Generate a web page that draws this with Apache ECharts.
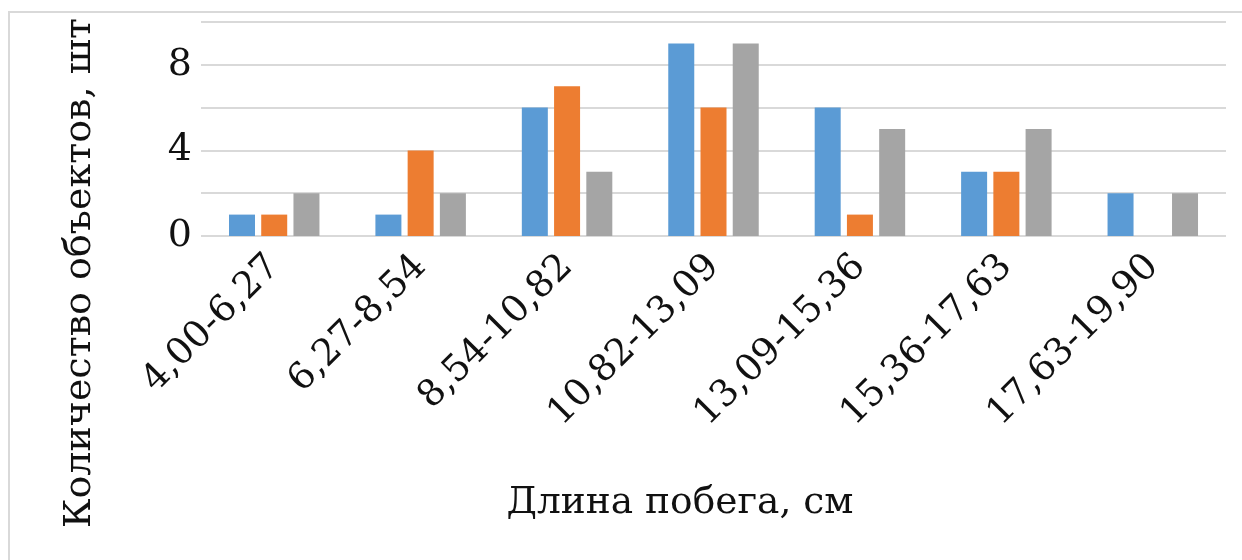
<!DOCTYPE html>
<html>
<head>
<meta charset="utf-8">
<script src="https://cdn.jsdelivr.net/npm/echarts@6/dist/echarts.min.js"></script>
<style>
  html, body { margin: 0; padding: 0; background: #fff; }
  #chart { width: 1242px; height: 560px; }
</style>
</head>
<body>
<div id="chart"></div>
<script>
// Shoot-length classes (cm)
const categories = ['4,00-6,27', '6,27-8,54', '8,54-10,82', '10,82-13,09', '13,09-15,36', '15,36-17,63', '17,63-19,90'];
// Object counts per class, three samples
const seriesA = [1, 1, 6, 9, 6, 3, 2];
const seriesB = [1, 4, 7, 6, 1, 3, 0];
const seriesC = [2, 2, 3, 9, 5, 5, 2];
const yLabelValues = [0, 4, 8];

const FONT = 'DejaVu Serif';
const TEXT = '#111111';
const GRID = '#d9d9d9';

const chart = echarts.init(document.getElementById('chart'), null, { renderer: 'canvas' });

function bar(name, data, color) {
  return {
    name, type: 'bar', data,
    barWidth: 26, barGap: '24%',
    itemStyle: { color },
    emphasis: { disabled: true }
  };
}

chart.setOption({
  animation: false,
  backgroundColor: '#ffffff',
  grid: { left: 201, right: 16, top: 22, bottom: 324, containLabel: false },
  xAxis: {
    type: 'category',
    data: categories,
    axisLine: { show: false },
    axisTick: { show: false },
    axisLabel: {
      rotate: 45, margin: 25, interval: 0,
      fontFamily: FONT, fontSize: 37, color: TEXT
    },
    splitLine: { show: false }
  },
  yAxis: {
    type: 'value',
    min: 0, max: 10, interval: 2,
    axisLine: { show: false },
    axisTick: { show: false },
    axisLabel: {
      margin: 9, fontFamily: FONT, fontSize: 38, color: TEXT,
      formatter: v => (yLabelValues.indexOf(v) >= 0 ? String(v) : '')
    },
    splitLine: { lineStyle: { color: GRID, width: 2 } }
  },
  series: [
    bar('A', seriesA, '#5b9bd5'),
    bar('B', seriesB, '#ed7d31'),
    bar('C', seriesC, '#a5a5a5')
  ],
  graphic: [
    {
      type: 'rect', silent: true, z: -1,
      shape: { x: 9, y: 12, width: 1400, height: 700 },
      style: { fill: 'none', stroke: GRID, lineWidth: 2 }
    },
    {
      type: 'text', silent: true,
      x: 80, y: 273, rotation: Math.PI / 2,
      style: {
        text: 'Количество объектов, шт',
        fontFamily: FONT, fontSize: 38, fill: TEXT,
        align: 'center', verticalAlign: 'middle'
      }
    },
    {
      type: 'text', silent: true,
      x: 680, y: 503,
      style: {
        text: 'Длина побега, см',
        fontFamily: FONT, fontSize: 37.5, fill: TEXT,
        align: 'center', verticalAlign: 'middle'
      }
    }
  ]
});
</script>
</body>
</html>
